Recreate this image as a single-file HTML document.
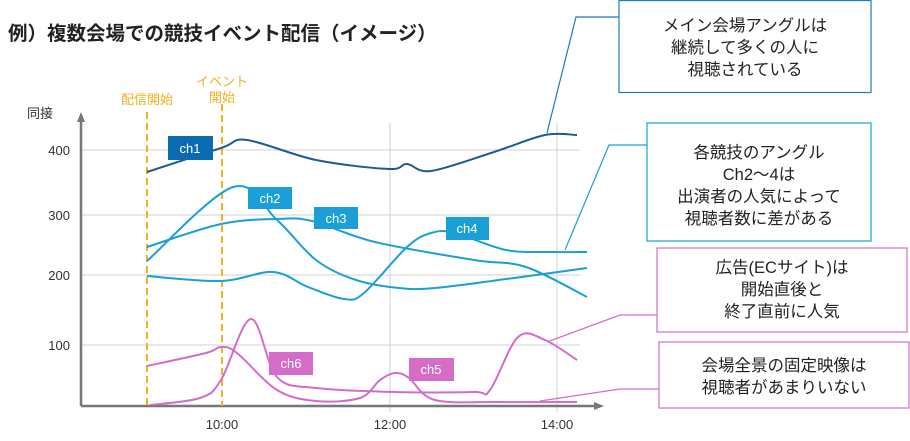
<!DOCTYPE html>
<html><head><meta charset="utf-8"><style>
body{margin:0;background:#fff;width:910px;height:441px;overflow:hidden}
svg{display:block}
text{font-family:"Liberation Sans","Noto Sans CJK JP",sans-serif}
</style></head><body>
<svg id="s" width="910" height="441" viewBox="0 0 910 441" xmlns="http://www.w3.org/2000/svg">
<text x="8" y="40" font-size="19.5" font-weight="bold" fill="#222">例）複数会場での競技イベント配信（イメージ）</text>
<g stroke="#d0d0d0" stroke-width="1">
<line x1="81" y1="150" x2="580" y2="150"/><line x1="81" y1="215" x2="580" y2="215"/>
<line x1="81" y1="275" x2="580" y2="275"/><line x1="81" y1="345" x2="580" y2="345"/>
<line x1="390" y1="123" x2="390" y2="412"/><line x1="557" y1="123" x2="557" y2="412"/>
</g>
<g fill="#333" font-size="13">
<text x="27" y="118">同接</text>
<text x="70" y="155" text-anchor="end">400</text>
<text x="70" y="220" text-anchor="end">300</text>
<text x="70" y="280" text-anchor="end">200</text>
<text x="70" y="350" text-anchor="end">100</text>
<text x="222" y="429" text-anchor="middle">10:00</text>
<text x="390" y="429" text-anchor="middle">12:00</text>
<text x="557" y="429" text-anchor="middle">14:00</text>
</g>
<g stroke="#777" stroke-width="2.5" fill="none">
<line x1="81" y1="118" x2="81" y2="406"/><line x1="81" y1="406" x2="598" y2="406"/>
</g>
<polygon points="81,112 77,122 85,122" fill="#777"/>
<polygon points="604,406 594,402 594,410" fill="#777"/>
<g stroke="#f2b21c" stroke-width="2" stroke-dasharray="7,4">
<line x1="147" y1="112" x2="147" y2="406"/><line x1="222" y1="104" x2="222" y2="406"/>
</g>
<g fill="#f0b020" font-size="13" text-anchor="middle">
<text x="147" y="104">配信開始</text>
<text x="222" y="86">イベント</text><text x="222" y="102">開始</text>
</g>
<g id="lines" fill="none" stroke-width="2"></g>
<g font-size="13" fill="#fff" text-anchor="middle">
<rect x="168" y="136" width="45" height="24" fill="#0b6bb0"/><text x="190" y="153">ch1</text>
<rect x="248" y="187" width="44" height="22" fill="#1a9fd6"/><text x="270" y="203">ch2</text>
<rect x="314" y="207" width="44" height="22" fill="#1a9fd6"/><text x="336" y="223">ch3</text>
<rect x="446" y="217" width="43" height="23" fill="#1a9fd6"/><text x="467" y="233">ch4</text>
<rect x="269" y="352" width="44" height="23" fill="#d46cc8"/><text x="291" y="368">ch6</text>
<rect x="409" y="358" width="45" height="23" fill="#d46cc8"/><text x="431" y="374">ch5</text>
</g>
<g fill="none" stroke-width="1.2">
<polyline points="547,133 576,17 619,17" stroke="#1a7bbf"/>
<rect x="619" y="0.5" width="252" height="92" stroke="#1a7bbf" fill="#fff"/>
<polyline points="565,250 609,145 647,145" stroke="#1aa0d8"/>
<rect x="647" y="123" width="224" height="118" stroke="#1aa0d8" fill="#fff"/>
<polyline points="547,342 620,315 657,315" stroke="#d070c8"/>
<rect x="657" y="248" width="250" height="84" stroke="#d070c8" fill="#fff"/>
<polyline points="540,401 620,389 659,389" stroke="#d070c8"/>
<rect x="659" y="342" width="250" height="66" stroke="#d070c8" fill="#fff"/>
</g>
<g font-size="16.5" fill="#222" text-anchor="middle">
<text x="745" y="31">メイン会場アングルは</text><text x="745" y="53">継続して多くの人に</text><text x="745" y="75">視聴されている</text>
<text x="759" y="158">各競技のアングル</text><text x="759" y="180">Ch2〜4は</text><text x="759" y="202">出演者の人気によって</text><text x="759" y="224">視聴者数に差がある</text>
<text x="782" y="273">広告(ECサイト)は</text><text x="782" y="295">開始直後と</text><text x="782" y="317">終了直前に人気</text>
<text x="784" y="371">会場全景の固定映像は</text><text x="784" y="393">視聴者があまりいない</text>
</g>
</svg>
<script>
function cr(p){let d="M"+p[0][0]+","+p[0][1];for(let i=0;i<p.length-1;i++){const a=p[i-1]||p[i],b=p[i],c=p[i+1],e=p[i+2]||c;
d+=" C"+(b[0]+(c[0]-a[0])/6)+","+(b[1]+(c[1]-a[1])/6)+" "+(c[0]-(e[0]-b[0])/6)+","+(c[1]-(e[1]-b[1])/6)+" "+c[0]+","+c[1];}return d;}
const L=[
["#1d5a96",[[147,172],[221,148],[247,140],[316,160],[389,169],[407,164],[431,171],[494,152],[545,135],[577,135]]],
["#1a9fd6",[[147,261],[233,187],[277,220],[316,260],[356,280],[399,288],[435,288],[514,278],[587,268]]],
["#1a9fd6",[[147,247],[221,224],[277,219],[312,221],[375,242],[474,260],[526,267],[587,297]]],
["#1a9fd6",[[147,276],[221,281],[273,272],[308,287],[344,299],[364,293],[407,247],[431,233],[455,233],[506,250],[553,252],[587,252]]],
["#d46cc8",[[147,366],[206,353],[221,347],[237,353],[277,390],[316,401],[360,398],[380,380],[395,373],[409,378],[435,400],[500,402],[577,402]]],
["#d46cc8",[[150,405],[200,398],[221,380],[251,319],[277,377],[316,388],[395,392],[474,392],[490,390],[518,337],[545,340],[577,360]]]];
const g=document.getElementById("lines");
L.forEach(([c,p])=>{const e=document.createElementNS("http://www.w3.org/2000/svg","path");e.setAttribute("d",cr(p));e.setAttribute("stroke",c);g.appendChild(e);});
</script>
</body></html>
